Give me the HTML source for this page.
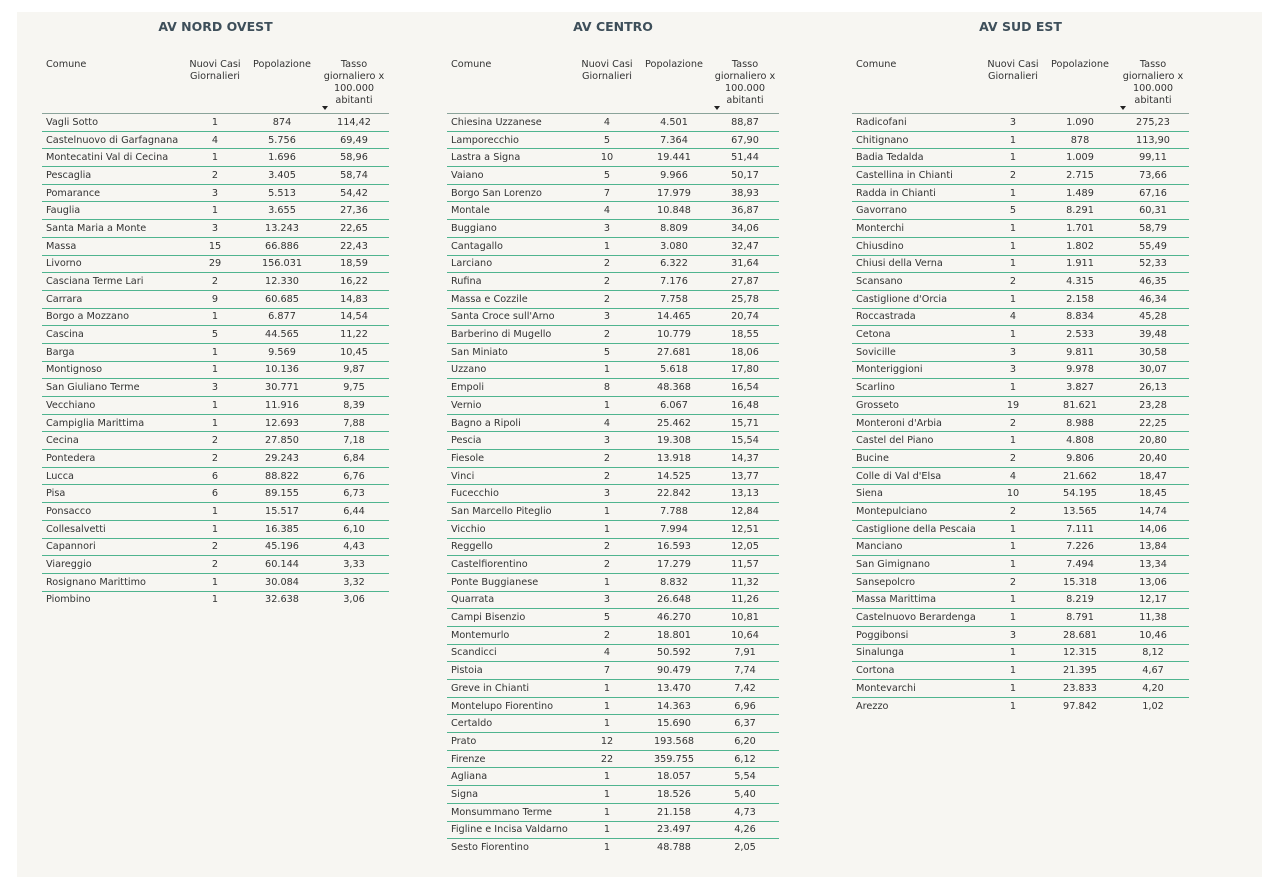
<!DOCTYPE html>
<html><head><meta charset="utf-8"><style>
body{margin:0;width:1280px;height:877px;background:#fff;position:relative;overflow:hidden;font-family:"DejaVu Sans","Liberation Sans",sans-serif;}
.bg{position:absolute;left:17px;top:12px;width:1245px;height:865px;background:#f7f6f2;}
.ttl{position:absolute;top:19px;font-weight:bold;font-size:12.5px;color:#3e4f5a;text-align:center;font-family:"DejaVu Sans",sans-serif;}
table{position:absolute;top:59px;border-collapse:collapse;font-size:9.7px;color:#333;table-layout:fixed;}
th{font-weight:normal;vertical-align:top;height:54px;line-height:12px;border-bottom:1.5px solid #8aa39a;padding:0;position:relative;text-align:center;color:#333}
th.c{text-align:left;padding-left:4px}
td{height:16.7px;padding:0;border-bottom:1px solid #4fb48f;text-align:center;white-space:nowrap;overflow:hidden}
td:first-child{text-align:left;padding-left:4px}
tr:last-child td{border-bottom:none}
.ar{position:absolute;left:3px;bottom:3px;width:0;height:0;border-left:3.5px solid transparent;border-right:3.5px solid transparent;border-top:4px solid #222}
</style></head><body>
<div class="bg"></div>

<div class="ttl" style="left:42px;width:347px">AV NORD OVEST</div>
<table style="left:42px;width:347px">
<colgroup><col style="width:143px"><col style="width:60px"><col style="width:74px"><col style="width:70px"></colgroup>
<tr><th class="c">Comune</th><th>Nuovi Casi Giornalieri</th><th>Popolazione</th><th>Tasso giornaliero x 100.000 abitanti<span class="ar"></span></th></tr>
<tr><td>Vagli Sotto</td><td>1</td><td>874</td><td>114,42</td></tr>
<tr><td>Castelnuovo di Garfagnana</td><td>4</td><td>5.756</td><td>69,49</td></tr>
<tr><td>Montecatini Val di Cecina</td><td>1</td><td>1.696</td><td>58,96</td></tr>
<tr><td>Pescaglia</td><td>2</td><td>3.405</td><td>58,74</td></tr>
<tr><td>Pomarance</td><td>3</td><td>5.513</td><td>54,42</td></tr>
<tr><td>Fauglia</td><td>1</td><td>3.655</td><td>27,36</td></tr>
<tr><td>Santa Maria a Monte</td><td>3</td><td>13.243</td><td>22,65</td></tr>
<tr><td>Massa</td><td>15</td><td>66.886</td><td>22,43</td></tr>
<tr><td>Livorno</td><td>29</td><td>156.031</td><td>18,59</td></tr>
<tr><td>Casciana Terme Lari</td><td>2</td><td>12.330</td><td>16,22</td></tr>
<tr><td>Carrara</td><td>9</td><td>60.685</td><td>14,83</td></tr>
<tr><td>Borgo a Mozzano</td><td>1</td><td>6.877</td><td>14,54</td></tr>
<tr><td>Cascina</td><td>5</td><td>44.565</td><td>11,22</td></tr>
<tr><td>Barga</td><td>1</td><td>9.569</td><td>10,45</td></tr>
<tr><td>Montignoso</td><td>1</td><td>10.136</td><td>9,87</td></tr>
<tr><td>San Giuliano Terme</td><td>3</td><td>30.771</td><td>9,75</td></tr>
<tr><td>Vecchiano</td><td>1</td><td>11.916</td><td>8,39</td></tr>
<tr><td>Campiglia Marittima</td><td>1</td><td>12.693</td><td>7,88</td></tr>
<tr><td>Cecina</td><td>2</td><td>27.850</td><td>7,18</td></tr>
<tr><td>Pontedera</td><td>2</td><td>29.243</td><td>6,84</td></tr>
<tr><td>Lucca</td><td>6</td><td>88.822</td><td>6,76</td></tr>
<tr><td>Pisa</td><td>6</td><td>89.155</td><td>6,73</td></tr>
<tr><td>Ponsacco</td><td>1</td><td>15.517</td><td>6,44</td></tr>
<tr><td>Collesalvetti</td><td>1</td><td>16.385</td><td>6,10</td></tr>
<tr><td>Capannori</td><td>2</td><td>45.196</td><td>4,43</td></tr>
<tr><td>Viareggio</td><td>2</td><td>60.144</td><td>3,33</td></tr>
<tr><td>Rosignano Marittimo</td><td>1</td><td>30.084</td><td>3,32</td></tr>
<tr><td>Piombino</td><td>1</td><td>32.638</td><td>3,06</td></tr>
</table>

<div class="ttl" style="left:447px;width:332px">AV CENTRO</div>
<table style="left:447px;width:332px">
<colgroup><col style="width:130px"><col style="width:60px"><col style="width:74px"><col style="width:68px"></colgroup>
<tr><th class="c">Comune</th><th>Nuovi Casi Giornalieri</th><th>Popolazione</th><th>Tasso giornaliero x 100.000 abitanti<span class="ar"></span></th></tr>
<tr><td>Chiesina Uzzanese</td><td>4</td><td>4.501</td><td>88,87</td></tr>
<tr><td>Lamporecchio</td><td>5</td><td>7.364</td><td>67,90</td></tr>
<tr><td>Lastra a Signa</td><td>10</td><td>19.441</td><td>51,44</td></tr>
<tr><td>Vaiano</td><td>5</td><td>9.966</td><td>50,17</td></tr>
<tr><td>Borgo San Lorenzo</td><td>7</td><td>17.979</td><td>38,93</td></tr>
<tr><td>Montale</td><td>4</td><td>10.848</td><td>36,87</td></tr>
<tr><td>Buggiano</td><td>3</td><td>8.809</td><td>34,06</td></tr>
<tr><td>Cantagallo</td><td>1</td><td>3.080</td><td>32,47</td></tr>
<tr><td>Larciano</td><td>2</td><td>6.322</td><td>31,64</td></tr>
<tr><td>Rufina</td><td>2</td><td>7.176</td><td>27,87</td></tr>
<tr><td>Massa e Cozzile</td><td>2</td><td>7.758</td><td>25,78</td></tr>
<tr><td>Santa Croce sull'Arno</td><td>3</td><td>14.465</td><td>20,74</td></tr>
<tr><td>Barberino di Mugello</td><td>2</td><td>10.779</td><td>18,55</td></tr>
<tr><td>San Miniato</td><td>5</td><td>27.681</td><td>18,06</td></tr>
<tr><td>Uzzano</td><td>1</td><td>5.618</td><td>17,80</td></tr>
<tr><td>Empoli</td><td>8</td><td>48.368</td><td>16,54</td></tr>
<tr><td>Vernio</td><td>1</td><td>6.067</td><td>16,48</td></tr>
<tr><td>Bagno a Ripoli</td><td>4</td><td>25.462</td><td>15,71</td></tr>
<tr><td>Pescia</td><td>3</td><td>19.308</td><td>15,54</td></tr>
<tr><td>Fiesole</td><td>2</td><td>13.918</td><td>14,37</td></tr>
<tr><td>Vinci</td><td>2</td><td>14.525</td><td>13,77</td></tr>
<tr><td>Fucecchio</td><td>3</td><td>22.842</td><td>13,13</td></tr>
<tr><td>San Marcello Piteglio</td><td>1</td><td>7.788</td><td>12,84</td></tr>
<tr><td>Vicchio</td><td>1</td><td>7.994</td><td>12,51</td></tr>
<tr><td>Reggello</td><td>2</td><td>16.593</td><td>12,05</td></tr>
<tr><td>Castelfiorentino</td><td>2</td><td>17.279</td><td>11,57</td></tr>
<tr><td>Ponte Buggianese</td><td>1</td><td>8.832</td><td>11,32</td></tr>
<tr><td>Quarrata</td><td>3</td><td>26.648</td><td>11,26</td></tr>
<tr><td>Campi Bisenzio</td><td>5</td><td>46.270</td><td>10,81</td></tr>
<tr><td>Montemurlo</td><td>2</td><td>18.801</td><td>10,64</td></tr>
<tr><td>Scandicci</td><td>4</td><td>50.592</td><td>7,91</td></tr>
<tr><td>Pistoia</td><td>7</td><td>90.479</td><td>7,74</td></tr>
<tr><td>Greve in Chianti</td><td>1</td><td>13.470</td><td>7,42</td></tr>
<tr><td>Montelupo Fiorentino</td><td>1</td><td>14.363</td><td>6,96</td></tr>
<tr><td>Certaldo</td><td>1</td><td>15.690</td><td>6,37</td></tr>
<tr><td>Prato</td><td>12</td><td>193.568</td><td>6,20</td></tr>
<tr><td>Firenze</td><td>22</td><td>359.755</td><td>6,12</td></tr>
<tr><td>Agliana</td><td>1</td><td>18.057</td><td>5,54</td></tr>
<tr><td>Signa</td><td>1</td><td>18.526</td><td>5,40</td></tr>
<tr><td>Monsummano Terme</td><td>1</td><td>21.158</td><td>4,73</td></tr>
<tr><td>Figline e Incisa Valdarno</td><td>1</td><td>23.497</td><td>4,26</td></tr>
<tr><td>Sesto Fiorentino</td><td>1</td><td>48.788</td><td>2,05</td></tr>
</table>

<div class="ttl" style="left:852px;width:337px">AV SUD EST</div>
<table style="left:852px;width:337px">
<colgroup><col style="width:131px"><col style="width:60px"><col style="width:74px"><col style="width:72px"></colgroup>
<tr><th class="c">Comune</th><th>Nuovi Casi Giornalieri</th><th>Popolazione</th><th>Tasso giornaliero x 100.000 abitanti<span class="ar"></span></th></tr>
<tr><td>Radicofani</td><td>3</td><td>1.090</td><td>275,23</td></tr>
<tr><td>Chitignano</td><td>1</td><td>878</td><td>113,90</td></tr>
<tr><td>Badia Tedalda</td><td>1</td><td>1.009</td><td>99,11</td></tr>
<tr><td>Castellina in Chianti</td><td>2</td><td>2.715</td><td>73,66</td></tr>
<tr><td>Radda in Chianti</td><td>1</td><td>1.489</td><td>67,16</td></tr>
<tr><td>Gavorrano</td><td>5</td><td>8.291</td><td>60,31</td></tr>
<tr><td>Monterchi</td><td>1</td><td>1.701</td><td>58,79</td></tr>
<tr><td>Chiusdino</td><td>1</td><td>1.802</td><td>55,49</td></tr>
<tr><td>Chiusi della Verna</td><td>1</td><td>1.911</td><td>52,33</td></tr>
<tr><td>Scansano</td><td>2</td><td>4.315</td><td>46,35</td></tr>
<tr><td>Castiglione d'Orcia</td><td>1</td><td>2.158</td><td>46,34</td></tr>
<tr><td>Roccastrada</td><td>4</td><td>8.834</td><td>45,28</td></tr>
<tr><td>Cetona</td><td>1</td><td>2.533</td><td>39,48</td></tr>
<tr><td>Sovicille</td><td>3</td><td>9.811</td><td>30,58</td></tr>
<tr><td>Monteriggioni</td><td>3</td><td>9.978</td><td>30,07</td></tr>
<tr><td>Scarlino</td><td>1</td><td>3.827</td><td>26,13</td></tr>
<tr><td>Grosseto</td><td>19</td><td>81.621</td><td>23,28</td></tr>
<tr><td>Monteroni d'Arbia</td><td>2</td><td>8.988</td><td>22,25</td></tr>
<tr><td>Castel del Piano</td><td>1</td><td>4.808</td><td>20,80</td></tr>
<tr><td>Bucine</td><td>2</td><td>9.806</td><td>20,40</td></tr>
<tr><td>Colle di Val d'Elsa</td><td>4</td><td>21.662</td><td>18,47</td></tr>
<tr><td>Siena</td><td>10</td><td>54.195</td><td>18,45</td></tr>
<tr><td>Montepulciano</td><td>2</td><td>13.565</td><td>14,74</td></tr>
<tr><td>Castiglione della Pescaia</td><td>1</td><td>7.111</td><td>14,06</td></tr>
<tr><td>Manciano</td><td>1</td><td>7.226</td><td>13,84</td></tr>
<tr><td>San Gimignano</td><td>1</td><td>7.494</td><td>13,34</td></tr>
<tr><td>Sansepolcro</td><td>2</td><td>15.318</td><td>13,06</td></tr>
<tr><td>Massa Marittima</td><td>1</td><td>8.219</td><td>12,17</td></tr>
<tr><td>Castelnuovo Berardenga</td><td>1</td><td>8.791</td><td>11,38</td></tr>
<tr><td>Poggibonsi</td><td>3</td><td>28.681</td><td>10,46</td></tr>
<tr><td>Sinalunga</td><td>1</td><td>12.315</td><td>8,12</td></tr>
<tr><td>Cortona</td><td>1</td><td>21.395</td><td>4,67</td></tr>
<tr><td>Montevarchi</td><td>1</td><td>23.833</td><td>4,20</td></tr>
<tr><td>Arezzo</td><td>1</td><td>97.842</td><td>1,02</td></tr>
</table>
</body></html>
